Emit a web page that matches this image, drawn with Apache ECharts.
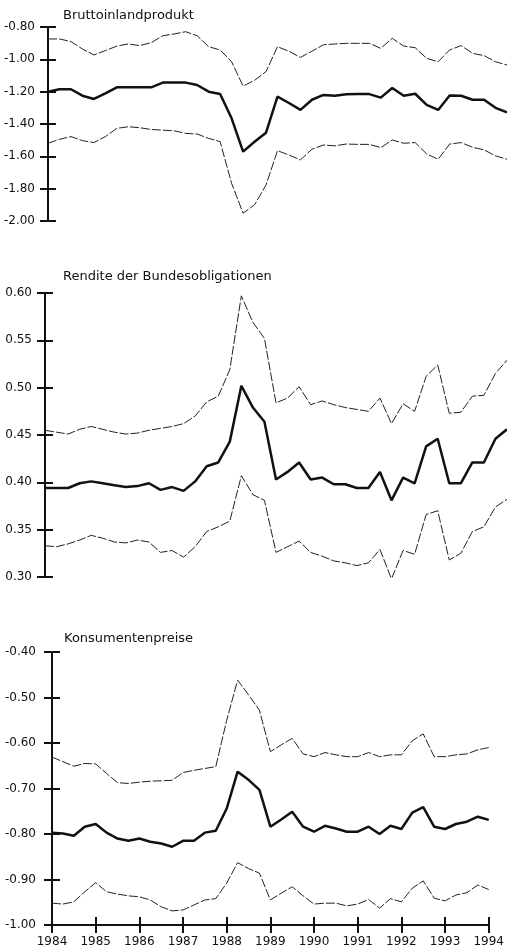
<!DOCTYPE html>
<html>
<head>
<meta charset="utf-8">
<script src="https://cdn.jsdelivr.net/npm/echarts@6/dist/echarts.min.js"></script>
<style>
  html, body { margin: 0; background: #fff; }
  #chart { width: 507px; height: 952px; }
</style>
</head>
<body>
<div id="chart"></div>
<script>
// quarterly observations, 1984 Q1 .. 1994 Q1
const years = [1984, 1985, 1986, 1987, 1988, 1989, 1990, 1991, 1992, 1993, 1994]
const quarters = []
years.forEach(function (y, i) {
  const n = i === years.length - 1 ? 1 : 4
  for (let q = 1; q <= n; q++) quarters.push(y + ' Q' + q)
})

// Bruttoinlandprodukt
const bipUpper = [-0.874, -0.874, -0.890, -0.936, -0.973, -0.946, -0.918, -0.905, -0.915, -0.897, -0.854, -0.843, -0.829, -0.854, -0.922, -0.942,
  -1.015, -1.165, -1.130, -1.076, -0.922, -0.950, -0.988, -0.950, -0.910, -0.905, -0.901, -0.901, -0.901, -0.932, -0.870, -0.918, -0.928,
  -0.994, -1.015, -0.942, -0.915, -0.963, -0.977, -1.015, -1.035]
const bipMid = [-1.200, -1.185, -1.185, -1.225, -1.245, -1.210, -1.173, -1.173, -1.173, -1.173, -1.144, -1.144, -1.144, -1.159, -1.200, -1.214,
  -1.365, -1.571, -1.510, -1.454, -1.231, -1.270, -1.313, -1.250, -1.220, -1.225, -1.216, -1.215, -1.215, -1.237, -1.177, -1.225, -1.213,
  -1.282, -1.313, -1.224, -1.225, -1.250, -1.250, -1.300, -1.328]
const bipLower = [-1.519, -1.495, -1.478, -1.503, -1.515, -1.478, -1.427, -1.417, -1.423, -1.434, -1.438, -1.442, -1.458, -1.462, -1.489, -1.509,
  -1.767, -1.952, -1.900, -1.777, -1.565, -1.592, -1.622, -1.556, -1.530, -1.535, -1.524, -1.526, -1.526, -1.546, -1.499, -1.519, -1.515,
  -1.585, -1.618, -1.524, -1.515, -1.544, -1.560, -1.597, -1.618]

// Rendite der Bundesobligationen
const renUpper = [0.455, 0.453, 0.451, 0.456, 0.459, 0.456, 0.453, 0.451, 0.452, 0.455, 0.457, 0.459, 0.462, 0.470, 0.485, 0.491,
  0.519, 0.597, 0.569, 0.552, 0.484, 0.489, 0.501, 0.482, 0.486, 0.482, 0.479, 0.477, 0.475, 0.489, 0.462, 0.483, 0.475,
  0.512, 0.524, 0.473, 0.474, 0.491, 0.492, 0.515, 0.529]
const renMid = [0.394, 0.394, 0.394, 0.399, 0.401, 0.399, 0.397, 0.395, 0.396, 0.399, 0.392, 0.395, 0.391, 0.401, 0.417, 0.421,
  0.443, 0.502, 0.479, 0.464, 0.403, 0.411, 0.421, 0.403, 0.405, 0.398, 0.398, 0.394, 0.394, 0.411, 0.381, 0.405, 0.399,
  0.438, 0.446, 0.399, 0.399, 0.421, 0.421, 0.446, 0.456]
const renLower = [0.333, 0.332, 0.335, 0.339, 0.344, 0.341, 0.337, 0.336, 0.339, 0.337, 0.326, 0.328, 0.321, 0.332, 0.348, 0.353,
  0.359, 0.407, 0.387, 0.381, 0.326, 0.332, 0.338, 0.326, 0.322, 0.317, 0.315, 0.312, 0.315, 0.329, 0.298, 0.328, 0.324,
  0.366, 0.370, 0.318, 0.325, 0.348, 0.353, 0.374, 0.382]

// Konsumentenpreise
const kpUpper = [-0.631, -0.641, -0.651, -0.645, -0.646, -0.667, -0.687, -0.689, -0.686, -0.684, -0.683, -0.682, -0.665, -0.660, -0.656, -0.652,
  -0.550, -0.462, -0.494, -0.528, -0.619, -0.604, -0.590, -0.624, -0.630, -0.621, -0.626, -0.630, -0.630, -0.621, -0.630, -0.626, -0.626,
  -0.595, -0.580, -0.630, -0.630, -0.626, -0.624, -0.615, -0.610]
const kpMid = [-0.797, -0.799, -0.804, -0.784, -0.778, -0.797, -0.810, -0.815, -0.810, -0.817, -0.821, -0.828, -0.815, -0.815, -0.797, -0.793,
  -0.744, -0.663, -0.681, -0.703, -0.784, -0.768, -0.751, -0.784, -0.795, -0.782, -0.788, -0.795, -0.795, -0.784, -0.800, -0.782, -0.789,
  -0.753, -0.741, -0.784, -0.789, -0.778, -0.773, -0.762, -0.769]
const kpLower = [-0.952, -0.954, -0.949, -0.927, -0.907, -0.927, -0.932, -0.936, -0.938, -0.945, -0.960, -0.969, -0.967, -0.956, -0.945, -0.942,
  -0.908, -0.863, -0.876, -0.886, -0.945, -0.930, -0.916, -0.936, -0.954, -0.952, -0.952, -0.958, -0.954, -0.944, -0.963, -0.942, -0.949,
  -0.919, -0.903, -0.941, -0.947, -0.934, -0.929, -0.912, -0.922]

const panels = [
  { title: 'Bruttoinlandprodukt', min: -2.0, max: -0.8, step: 0.2, upper: bipUpper, mid: bipMid, lower: bipLower },
  { title: 'Rendite der Bundesobligationen', min: 0.3, max: 0.6, step: 0.05, upper: renUpper, mid: renMid, lower: renLower },
  { title: 'Konsumentenpreise', min: -1.0, max: -0.4, step: 0.1, upper: kpUpper, mid: kpMid, lower: kpLower }
]

const font = 'DejaVu Sans'
const ink = '#111'
const band = '#222'
const grids = [
  { left: 48, top: 27, width: 459, height: 194 },
  { left: 45, top: 293, width: 462, height: 284 },
  { left: 52, top: 652, width: 438, height: 273 }
]
const titlePos = [{ left: 58, top: 4 }, { left: 58, top: 265 }, { left: 59, top: 627 }]
const labelMargin = [13, 13, 16]

const isYear = function (i) { return i % 4 === 0 }
const option = {
  animation: false,
  backgroundColor: '#fff',
  title: [],
  grid: grids,
  xAxis: [],
  yAxis: [],
  series: []
}

panels.forEach(function (p, k) {
  option.title.push({
    text: p.title, left: titlePos[k].left, top: titlePos[k].top,
    textStyle: { fontFamily: font, fontSize: 13, fontWeight: 'normal', color: ink }
  })
  const last = k === panels.length - 1
  // main x axis (only the bottom panel shows it)
  option.xAxis.push({
    type: 'category', gridIndex: k, data: quarters, boundaryGap: false, show: last,
    axisLine: { lineStyle: { color: ink, width: 2 } },
    axisTick: { interval: isYear, length: 8, lineStyle: { color: ink, width: 2 } },
    axisLabel: { interval: isYear, formatter: function (v) { return v.slice(0, 4) }, margin: 11,
      fontFamily: font, fontSize: 12, color: ink },
    splitLine: { show: false }
  })
  // y axis with labels and outer ticks
  option.yAxis.push({
    type: 'value', gridIndex: k, min: p.min, max: p.max, interval: p.step,
    axisLine: { show: true, lineStyle: { color: ink, width: 2 } },
    axisTick: { show: true, length: 8, lineStyle: { color: ink, width: 2 } },
    axisLabel: { formatter: function (v) { return v.toFixed(2) }, margin: labelMargin[k],
      fontFamily: font, fontSize: 12, color: ink },
    splitLine: { show: false }
  })
  option.series.push(
    { type: 'line', xAxisIndex: k, yAxisIndex: k, data: p.upper, symbol: 'none',
      lineStyle: { color: band, width: 1, type: [9, 2] } },
    { type: 'line', xAxisIndex: k, yAxisIndex: k, data: p.mid, symbol: 'none',
      lineStyle: { color: ink, width: 2.5 } },
    { type: 'line', xAxisIndex: k, yAxisIndex: k, data: p.lower, symbol: 'none',
      lineStyle: { color: band, width: 1, type: [9, 2] } }
  )
})

// second set of axes: inner half of the crossing tick marks
panels.forEach(function (p, k) {
  option.yAxis.push({
    type: 'value', gridIndex: k, min: p.min, max: p.max, interval: p.step, position: 'left',
    axisLine: { show: false },
    axisTick: { show: true, inside: true, length: 8, lineStyle: { color: ink, width: 2 } },
    axisLabel: { show: false }, splitLine: { show: false }
  })
})
option.xAxis.push({
  type: 'category', gridIndex: 2, data: quarters, boundaryGap: false, position: 'bottom',
  axisLine: { show: false },
  axisTick: { inside: true, interval: isYear, length: 8, lineStyle: { color: ink, width: 2 } },
  axisLabel: { show: false }, splitLine: { show: false }
})

const chart = echarts.init(document.getElementById('chart'))
chart.setOption(option)
</script>
</body>
</html>
